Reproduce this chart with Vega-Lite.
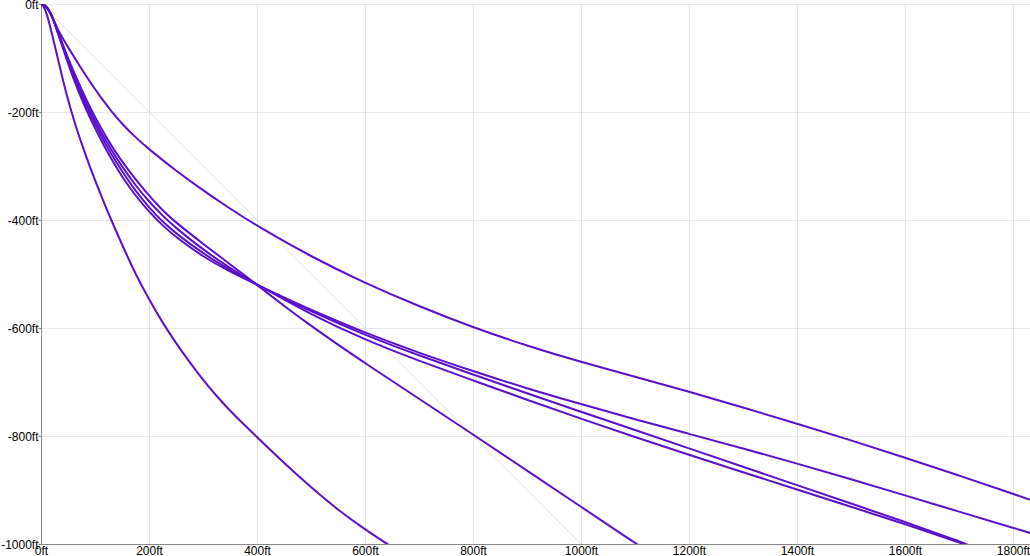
{
  "$schema": "https://vega.github.io/schema/vega-lite/v6.json",
  "width": 989,
  "height": 540,
  "autosize": {"type": "none"},
  "padding": {"left": 41, "top": 4, "right": 0, "bottom": 12},
  "background": "white",
  "config": {
    "view": {"stroke": null},
    "axis": {
      "labelFont": "Liberation Sans",
      "labelFontSize": 12,
      "labelColor": "#000000",
      "gridColor": "#e6e6e6",
      "gridWidth": 1,
      "domainColor": "#888888",
      "domainWidth": 1,
      "tickColor": "#888888",
      "labelFlush": false,
      "labelOverlap": false,
      "title": null
    }
  },
  "datasets": {
    "curves": [
      {"s":"A","x":0,"y":0},{"s":"A","x":3,"y":-2},{"s":"A","x":6,"y":-7},{"s":"A","x":9,"y":-14},{"s":"A","x":12,"y":-23},{"s":"A","x":15,"y":-34},{"s":"A","x":20,"y":-54},{"s":"A","x":25,"y":-75},{"s":"A","x":30,"y":-96},{"s":"A","x":35,"y":-117},{"s":"A","x":40,"y":-138},{"s":"A","x":45,"y":-158},{"s":"A","x":50,"y":-177},{"s":"A","x":58,"y":-205},{"s":"A","x":65,"y":-228},{"s":"A","x":75,"y":-258},{"s":"A","x":90,"y":-300},{"s":"A","x":100,"y":-326},{"s":"A","x":115,"y":-364},{"s":"A","x":130,"y":-400},{"s":"A","x":152,"y":-450},{"s":"A","x":175,"y":-500},{"s":"A","x":200,"y":-547},{"s":"A","x":225,"y":-590},{"s":"A","x":250,"y":-628},{"s":"A","x":275,"y":-663},{"s":"A","x":300,"y":-696},{"s":"A","x":325,"y":-726},{"s":"A","x":350,"y":-753},{"s":"A","x":375,"y":-778},{"s":"A","x":400,"y":-802},{"s":"A","x":450,"y":-850},{"s":"A","x":500,"y":-895},{"s":"A","x":550,"y":-937},{"s":"A","x":600,"y":-973},{"s":"A","x":641,"y":-1000},{"s":"A","x":660,"y":-1012},
      {"s":"B","x":0,"y":0},{"s":"B","x":5,"y":-1},{"s":"B","x":10,"y":-5},{"s":"B","x":15,"y":-12},{"s":"B","x":20,"y":-22},{"s":"B","x":25,"y":-33},{"s":"B","x":30,"y":-45},{"s":"B","x":40,"y":-63},{"s":"B","x":50,"y":-80},{"s":"B","x":60,"y":-96},{"s":"B","x":75,"y":-120},{"s":"B","x":90,"y":-143},{"s":"B","x":112,"y":-175},{"s":"B","x":130,"y":-198},{"s":"B","x":150,"y":-222},{"s":"B","x":175,"y":-247},{"s":"B","x":200,"y":-269},{"s":"B","x":250,"y":-309},{"s":"B","x":300,"y":-345},{"s":"B","x":350,"y":-379},{"s":"B","x":400,"y":-411},{"s":"B","x":500,"y":-468},{"s":"B","x":600,"y":-517},{"s":"B","x":700,"y":-560},{"s":"B","x":800,"y":-599},{"s":"B","x":900,"y":-633},{"s":"B","x":1000,"y":-663},{"s":"B","x":1100,"y":-690},{"s":"B","x":1200,"y":-718},{"s":"B","x":1300,"y":-747},{"s":"B","x":1400,"y":-777},{"s":"B","x":1500,"y":-808},{"s":"B","x":1600,"y":-840},{"s":"B","x":1700,"y":-873},{"s":"B","x":1800,"y":-907},{"s":"B","x":1840,"y":-921},
      {"s":"C","x":0,"y":0},{"s":"C","x":5,"y":-1},{"s":"C","x":10,"y":-5},{"s":"C","x":15,"y":-12},{"s":"C","x":20,"y":-22},{"s":"C","x":25,"y":-34},{"s":"C","x":30,"y":-47},{"s":"C","x":40,"y":-74},{"s":"C","x":50,"y":-100},{"s":"C","x":60,"y":-124},{"s":"C","x":75,"y":-158},{"s":"C","x":90,"y":-190},{"s":"C","x":110,"y":-228},{"s":"C","x":130,"y":-262},{"s":"C","x":150,"y":-292},{"s":"C","x":175,"y":-325},{"s":"C","x":200,"y":-355},{"s":"C","x":225,"y":-382},{"s":"C","x":250,"y":-405},{"s":"C","x":300,"y":-444},{"s":"C","x":350,"y":-482},{"s":"C","x":400,"y":-520},{"s":"C","x":450,"y":-559},{"s":"C","x":500,"y":-596},{"s":"C","x":550,"y":-631},{"s":"C","x":600,"y":-665},{"s":"C","x":700,"y":-731},{"s":"C","x":800,"y":-797},{"s":"C","x":900,"y":-864},{"s":"C","x":1000,"y":-931},{"s":"C","x":1100,"y":-998},{"s":"C","x":1120,"y":-1011},
      {"s":"D","x":0,"y":0},{"s":"D","x":5,"y":-1},{"s":"D","x":10,"y":-5},{"s":"D","x":15,"y":-12},{"s":"D","x":20,"y":-22},{"s":"D","x":25,"y":-35},{"s":"D","x":30,"y":-50},{"s":"D","x":40,"y":-80},{"s":"D","x":50,"y":-110},{"s":"D","x":60,"y":-138},{"s":"D","x":75,"y":-176},{"s":"D","x":90,"y":-210},{"s":"D","x":110,"y":-250},{"s":"D","x":130,"y":-287},{"s":"D","x":150,"y":-320},{"s":"D","x":175,"y":-355},{"s":"D","x":200,"y":-385},{"s":"D","x":225,"y":-410},{"s":"D","x":250,"y":-432},{"s":"D","x":300,"y":-468},{"s":"D","x":350,"y":-496},{"s":"D","x":400,"y":-520},{"s":"D","x":500,"y":-567},{"s":"D","x":600,"y":-609},{"s":"D","x":700,"y":-646},{"s":"D","x":800,"y":-680},{"s":"D","x":900,"y":-712},{"s":"D","x":1000,"y":-741},{"s":"D","x":1100,"y":-769},{"s":"D","x":1200,"y":-796},{"s":"D","x":1300,"y":-823},{"s":"D","x":1400,"y":-851},{"s":"D","x":1500,"y":-880},{"s":"D","x":1600,"y":-910},{"s":"D","x":1700,"y":-940},{"s":"D","x":1800,"y":-970},{"s":"D","x":1840,"y":-982},
      {"s":"E","x":0,"y":0},{"s":"E","x":5,"y":-1},{"s":"E","x":10,"y":-5},{"s":"E","x":15,"y":-12},{"s":"E","x":20,"y":-22},{"s":"E","x":25,"y":-35},{"s":"E","x":30,"y":-49},{"s":"E","x":40,"y":-78},{"s":"E","x":50,"y":-106},{"s":"E","x":60,"y":-133},{"s":"E","x":75,"y":-170},{"s":"E","x":90,"y":-203},{"s":"E","x":110,"y":-242},{"s":"E","x":130,"y":-278},{"s":"E","x":150,"y":-310},{"s":"E","x":175,"y":-346},{"s":"E","x":200,"y":-377},{"s":"E","x":225,"y":-403},{"s":"E","x":250,"y":-425},{"s":"E","x":300,"y":-462},{"s":"E","x":350,"y":-493},{"s":"E","x":400,"y":-520},{"s":"E","x":500,"y":-570},{"s":"E","x":600,"y":-613},{"s":"E","x":700,"y":-651},{"s":"E","x":800,"y":-686},{"s":"E","x":900,"y":-721},{"s":"E","x":1000,"y":-755},{"s":"E","x":1100,"y":-789},{"s":"E","x":1200,"y":-823},{"s":"E","x":1300,"y":-857},{"s":"E","x":1400,"y":-891},{"s":"E","x":1500,"y":-925},{"s":"E","x":1600,"y":-959},{"s":"E","x":1700,"y":-995},{"s":"E","x":1720,"y":-1003},
      {"s":"F","x":0,"y":0},{"s":"F","x":5,"y":-1},{"s":"F","x":10,"y":-5},{"s":"F","x":15,"y":-12},{"s":"F","x":20,"y":-22},{"s":"F","x":25,"y":-35},{"s":"F","x":30,"y":-48},{"s":"F","x":40,"y":-76},{"s":"F","x":50,"y":-103},{"s":"F","x":60,"y":-129},{"s":"F","x":75,"y":-165},{"s":"F","x":90,"y":-197},{"s":"F","x":110,"y":-235},{"s":"F","x":130,"y":-270},{"s":"F","x":150,"y":-301},{"s":"F","x":175,"y":-336},{"s":"F","x":200,"y":-366},{"s":"F","x":225,"y":-392},{"s":"F","x":250,"y":-415},{"s":"F","x":300,"y":-455},{"s":"F","x":350,"y":-489},{"s":"F","x":400,"y":-520},{"s":"F","x":500,"y":-575},{"s":"F","x":600,"y":-622},{"s":"F","x":700,"y":-661},{"s":"F","x":800,"y":-697},{"s":"F","x":900,"y":-733},{"s":"F","x":1000,"y":-768},{"s":"F","x":1100,"y":-802},{"s":"F","x":1200,"y":-835},{"s":"F","x":1300,"y":-867},{"s":"F","x":1400,"y":-899},{"s":"F","x":1500,"y":-931},{"s":"F","x":1600,"y":-963},{"s":"F","x":1700,"y":-997},{"s":"F","x":1720,"y":-1004}
    ],
    "diag": [{"x":0,"y":0},{"x":1000,"y":-1000}]
  },
  "layer": [
    {
      "data": {"name": "diag"},
      "mark": {"type": "line", "color": "#e0e0e0", "strokeWidth": 1, "clip": true},
      "encoding": {
        "x": {"field": "x", "type": "quantitative", "scale": {"domain": [0, 1831.5], "nice": false, "zero": false},
          "axis": {"values": [0,200,400,600,800,1000,1200,1400,1600,1800], "labelExpr": "datum.value + 'ft'", "ticks": false, "labelPadding": 1, "grid": true}},
        "y": {"field": "y", "type": "quantitative", "scale": {"domain": [-1000, 0], "nice": false, "zero": false},
          "axis": {"values": [0,-200,-400,-600,-800,-1000], "labelExpr": "datum.value + 'ft'", "tickSize": 3, "labelPadding": 0, "grid": true}}
      }
    },
    {
      "data": {"name": "curves"},
      "mark": {"type": "line", "color": "#5b10c9", "strokeWidth": 2, "clip": true, "interpolate": "basis"},
      "encoding": {
        "x": {"field": "x", "type": "quantitative"},
        "y": {"field": "y", "type": "quantitative"},
        "detail": {"field": "s", "type": "nominal"}
      }
    }
  ]
}
